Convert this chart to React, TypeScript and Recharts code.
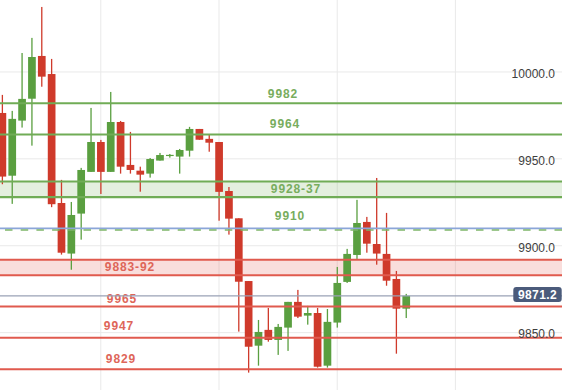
import React from 'react';
import { ComposedChart, Bar, XAxis, YAxis, CartesianGrid, ReferenceLine, ReferenceArea } from 'recharts';

// ---- data ----
const opens = [9976.4, 9940.3, 9972.0, 9984.6, 10009.2, 9998.8, 9924.6, 9895.5, 9918.5, 9942.5, 9959.7, 9942.5, 9971.2, 9946.5, 9943.2, 9941.5, 9949.0, 9952.0, 9951.3, 9954.7, 9967.2, 9961.5, 9959.7, 9931.5, 9915.8, 9879.7, 9842.5, 9851.6, 9845.8, 9852.9, 9867.7, 9859.8, 9861.3, 9831.0, 9855.8, 9879.2, 9894.7, 9913.7, 9901.0, 9895.3, 9880.9, 9863.8];
const highs = [9986.8, 9977.6, 10010.9, 10019.6, 10037.4, 10007.5, 9937.9, 9925.2, 9944.8, 9979.3, 9960.9, 9988.5, 9971.8, 9965.5, 9945.5, 9950.5, 9953.4, 9952.8, 9955.7, 9968.4, 9967.2, 9963.8, 9959.7, 9933.8, 9915.8, 9879.7, 9857.3, 9864.2, 9855.0, 9867.7, 9874.6, 9865.4, 9864.2, 9863.6, 9887.8, 9898.2, 9926.4, 9916.6, 9939.0, 9918.9, 9885.5, 9872.3];
const lows = [9935.4, 9924.1, 9968.0, 9957.6, 9991.5, 9922.2, 9894.9, 9886.2, 9903.5, 9942.5, 9929.8, 9942.5, 9941.5, 9941.5, 9931.1, 9939.2, 9949.0, 9950.7, 9941.5, 9951.3, 9961.0, 9954.1, 9914.4, 9906.4, 9850.6, 9827.0, 9831.0, 9844.8, 9837.2, 9839.5, 9858.4, 9854.6, 9829.9, 9829.9, 9852.9, 9878.6, 9892.4, 9896.0, 9889.1, 9877.0, 9837.9, 9858.4];
const closes = [9939.8, 9973.0, 9984.5, 10008.6, 9997.3, 9923.9, 9896.0, 9917.7, 9943.6, 9959.7, 9942.5, 9971.2, 9945.5, 9943.6, 9940.9, 9949.9, 9952.2, 9952.3, 9955.1, 9967.2, 9961.0, 9959.3, 9931.0, 9915.6, 9879.3, 9841.9, 9850.4, 9845.8, 9853.3, 9867.7, 9859.2, 9861.3, 9830.4, 9856.2, 9878.6, 9895.3, 9913.1, 9901.2, 9895.5, 9879.9, 9863.8, 9871.2];

const yTicks = [9850, 9900, 9950, 10000];
const gridCandleIndexes = [10, 22, 34, 46];

const greenLevels = [9982, 9964];
const greenLevelLabels = ['9982', '9964'];
const greenBand = [9928, 9937];
const greenBandLabel = '9928-37';
const pivotLevel = 9910;
const pivotLabel = '9910';
const redBand = [9883, 9892];
const redBandLabel = '9883-92';
const redLevels = [9865, 9847, 9829];
const redLevelLabels = ['9965', '9947', '9829'];

// ---- style ----
const W = 562;
const H = 390;
const GREEN = '#5a9f40';
const RED = '#cf3a2b';
const GREEN_LINE = '#70ac56';
const RED_LINE = '#e05a4e';
const GREEN_TEXT = '#78ad5e';
const RED_TEXT = '#de6659';
const FONT = '"Liberation Sans", Arial, sans-serif';

const greenLabelPos = [{ cx: 283, dy: -9.5 }, { cx: 285, dy: -10.3 }];
const greenBandLabelPos = { cx: 296, dy: 0 };
const pivotLabelPos = { cx: 290, dy: -12 };
const redBandLabelPos = { cx: 130, dy: 0 };
const redLabelPos = [{ cx: 122, dy: -7.7 }, { cx: 119, dy: -11.8 }, { cx: 121, dy: -10 }];

const data = opens.map((o, i) => ({
  i,
  open: o,
  high: highs[i],
  low: lows[i],
  close: closes[i],
  range: [lows[i], highs[i]],
}));
const lastPrice = closes[closes.length - 1];

const Candle = (props: any) => {
  const { x, y, width, height, payload } = props;
  if (payload == null || height == null) return null;
  const { open, close, high, low } = payload;
  const up = close >= open;
  const color = up ? GREEN : RED;
  const ppu = high - low > 0 ? height / (high - low) : 0;
  const cx = x + width / 2;
  const bodyTop = y + (high - Math.max(open, close)) * ppu;
  const bodyH = Math.max(Math.abs(open - close) * ppu, 1.2);
  return (
    <g>
      <rect x={cx - 0.65} y={y} width={1.3} height={Math.max(height, 1)} fill={color} />
      <rect x={cx - 3.85} y={bodyTop} width={7.7} height={bodyH} fill={color} />
    </g>
  );
};

const textProps = {
  fontSize: 12,
  fontWeight: 'bold' as const,
  textAnchor: 'middle' as const,
  dominantBaseline: 'central' as const,
  letterSpacing: 0.9,
  fontFamily: FONT,
};

const lineLabel = (text: string, cx: number, dy: number, color: string) => (props: any) => {
  const vb = props.viewBox || {};
  return (
    <text x={cx} y={(vb.y || 0) + dy} fill={color} {...textProps}>
      {text}
    </text>
  );
};

const areaLabel = (text: string, cx: number, dy: number, color: string) => (props: any) => {
  const vb = props.viewBox || {};
  return (
    <text x={cx} y={(vb.y || 0) + (vb.height || 0) / 2 + dy} fill={color} {...textProps}>
      {text}
    </text>
  );
};

const priceLabel = (text: string) => (props: any) => {
  const vb = props.viewBox || {};
  const right = (vb.x || 0) + (vb.width || 0);
  const y = vb.y || 0;
  return (
    <g>
      <rect x={right - 48.7} y={y - 8.8} width={48.4} height={15} rx={3} ry={3} fill="#4b5b7b" />
      <text x={right - 24.5} y={y - 0.8} fill="#ffffff" fontSize={12} fontWeight="bold" textAnchor="middle" dominantBaseline="central" letterSpacing={0.4} fontFamily={FONT}>
        {text}
      </text>
    </g>
  );
};

const PivotShape = (props: any) => {
  const { x1, y1, x2 } = props;
  if (x1 == null || y1 == null) return null;
  return (
    <g>
      <line x1={x1} y1={y1} x2={x2} y2={y1} stroke="#8ba6d8" strokeWidth={1.6} />
      <line x1={x1} y1={y1 + 1.6} x2={x2} y2={y1 + 1.6} stroke="#7db568" strokeWidth={1.6} strokeDasharray="7.5 8.2" />
    </g>
  );
};

export default function App() {
  return (
    <div style={{ position: 'absolute', left: 0, top: 0, width: W, height: H, background: '#ffffff', fontFamily: FONT }}>
      <ComposedChart width={W} height={H} data={data} margin={{ top: 0, right: 0, bottom: 0, left: 0 }}>
        <CartesianGrid
          stroke="#e9e9e9"
          strokeWidth={1}
          horizontalValues={yTicks}
          verticalValues={gridCandleIndexes}
        />
        <XAxis
          dataKey="i"
          type="number"
          domain={[-0.234, 56.82]}
          allowDataOverflow
          hide
          ticks={gridCandleIndexes}
        />
        <YAxis
          orientation="right"
          mirror
          type="number"
          domain={[9817.0, 10041.4]}
          allowDataOverflow
          ticks={yTicks}
          tickFormatter={(v: number) => v.toFixed(1)}
          axisLine={false}
          tickLine={false}
          tickSize={5}
          tickMargin={2}
          tick={{ fill: '#3e3e3e', fontSize: 12, fontFamily: FONT, dy: 1.5 }}
        />
        <Bar dataKey="range" barSize={8} shape={<Candle />} isAnimationActive={false} />

        <ReferenceArea y1={greenBand[0]} y2={greenBand[1]} fill="#6aa84f" fillOpacity={0.18} stroke="none" ifOverflow="visible"
          label={areaLabel(greenBandLabel, greenBandLabelPos.cx, greenBandLabelPos.dy, GREEN_TEXT)} />
        <ReferenceLine y={greenBand[0]} stroke={GREEN_LINE} strokeWidth={2.4} />
        <ReferenceLine y={greenBand[1]} stroke={GREEN_LINE} strokeWidth={2} />
        {greenLevels.map((v, k) => (
          <ReferenceLine key={'g' + k} y={v} stroke={GREEN_LINE} strokeWidth={2}
            label={lineLabel(greenLevelLabels[k], greenLabelPos[k].cx, greenLabelPos[k].dy, GREEN_TEXT)} />
        ))}
        <ReferenceLine y={pivotLevel} shape={<PivotShape />}
          label={lineLabel(pivotLabel, pivotLabelPos.cx, pivotLabelPos.dy, GREEN_TEXT)} />

        <ReferenceArea y1={redBand[0]} y2={redBand[1]} fill="#e05a50" fillOpacity={0.2} stroke="none"
          label={areaLabel(redBandLabel, redBandLabelPos.cx, redBandLabelPos.dy, RED_TEXT)} />
        <ReferenceLine y={redBand[0]} stroke={RED_LINE} strokeWidth={2} />
        <ReferenceLine y={redBand[1]} stroke={RED_LINE} strokeWidth={2} />
        {redLevels.map((v, k) => (
          <ReferenceLine key={'r' + k} y={v} stroke={RED_LINE} strokeWidth={2}
            label={lineLabel(redLevelLabels[k], redLabelPos[k].cx, redLabelPos[k].dy, RED_TEXT)} />
        ))}
        <ReferenceLine y={lastPrice} stroke="#9aa2b6" strokeWidth={1.2} label={priceLabel(lastPrice.toFixed(1))} />
      </ComposedChart>
    </div>
  );
}
